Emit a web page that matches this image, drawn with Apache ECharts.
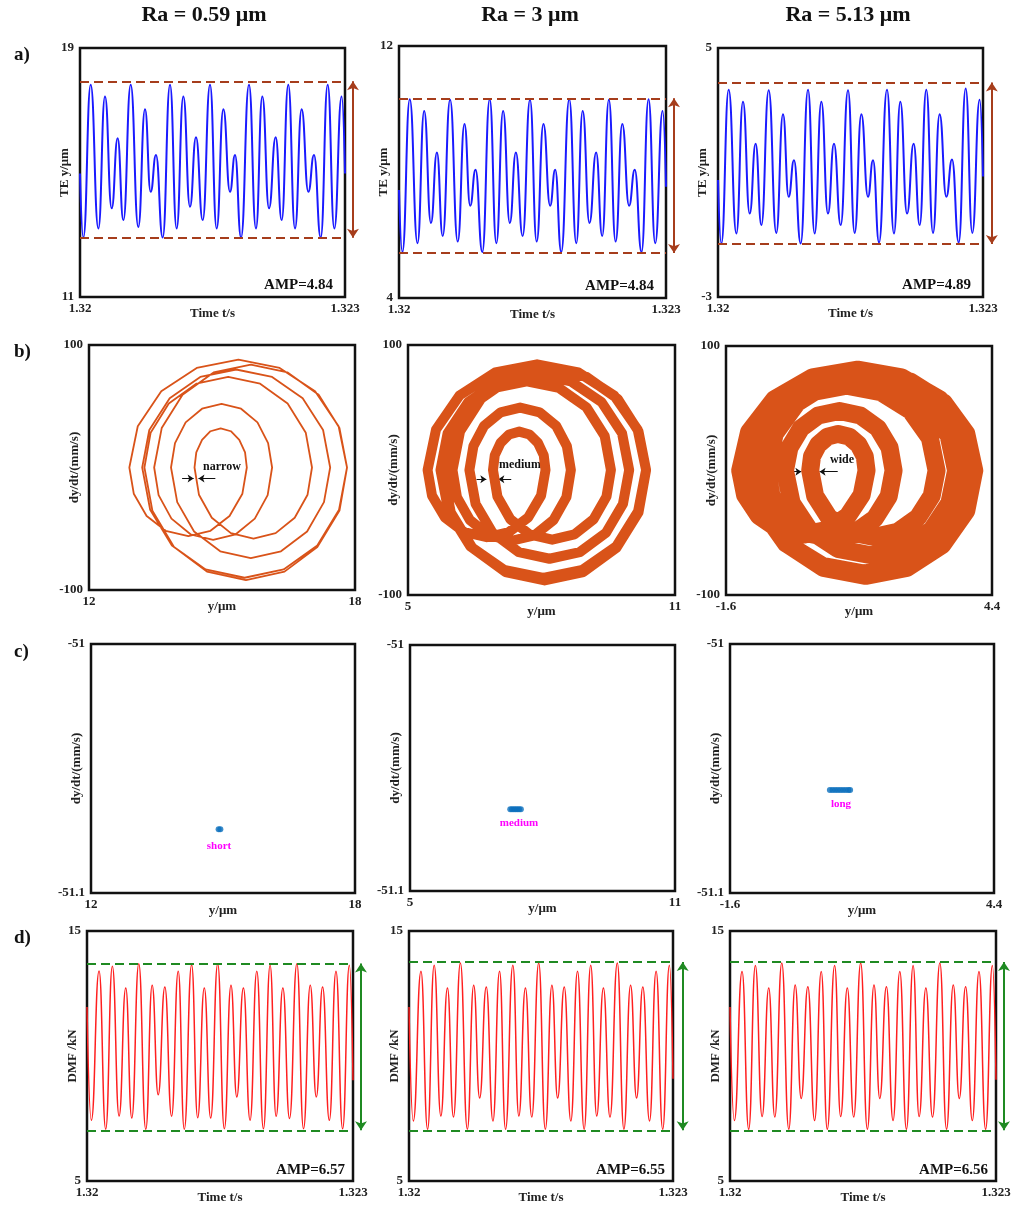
<!DOCTYPE html>
<html>
<head>
<meta charset="utf-8">
<script src="https://cdn.jsdelivr.net/npm/echarts@6/dist/echarts.min.js"></script>
<style>
  html, body { margin: 0; padding: 0; background: #fff; }
  #main { width: 1019px; height: 1207px; }
</style>
</head>
<body>
<div id="main"></div>
<script>
// ---- row a: transmission error, extrema ----
const aTime = [1.32, 1.320038, 1.320121, 1.320208, 1.320283, 1.320359, 1.320426, 1.320491, 1.320574, 1.320660,
  1.320736, 1.320800, 1.320860, 1.320936, 1.321019, 1.321094, 1.321170, 1.321245, 1.321313, 1.321389,
  1.321472, 1.321547, 1.321623, 1.321698, 1.321755, 1.321823, 1.321913, 1.321992, 1.322064, 1.322140,
  1.322215, 1.322283, 1.322358, 1.322434, 1.322509, 1.322585, 1.322649, 1.322725, 1.322804, 1.322879,
  1.322962, 1.323]
const te1 = [14.97, 12.91, 17.82, 13.20, 17.44, 13.85, 16.10, 13.47, 17.82, 13.25, 17.03, 14.38, 15.56, 12.91,
  17.82, 13.20, 17.44, 13.90, 16.13, 13.47, 17.82, 13.20, 17.03, 14.38, 15.56, 12.91, 17.82, 13.20, 17.44,
  13.85, 16.13, 13.47, 17.82, 13.20, 17.03, 14.38, 15.56, 12.91, 17.82, 13.20, 17.44, 14.97]
const te2 = [7.43, 5.46, 10.31, 5.74, 9.94, 6.38, 8.62, 5.97, 10.29, 5.79, 9.52, 6.93, 8.07, 5.46, 10.31, 5.74,
  9.94, 6.38, 8.62, 5.97, 10.29, 5.79, 9.52, 6.93, 8.07, 5.46, 10.31, 5.74, 9.94, 6.38, 8.62, 5.97, 10.29,
  5.79, 9.52, 6.93, 8.07, 5.46, 10.31, 5.74, 9.94, 7.53]
const te3 = [0.76, -1.28, 3.66, -0.96, 3.27, -0.32, 1.92, -0.69, 3.64, -0.94, 2.87, 0.22, 1.39, -1.28, 3.66,
  -0.96, 3.27, -0.32, 1.92, -0.69, 3.64, -0.94, 2.87, 0.22, 1.39, -1.25, 3.66, -0.96, 3.27, -0.32, 1.92,
  -0.69, 3.66, -0.94, 2.87, 0.22, 1.42, -1.25, 3.70, -0.94, 3.34, 0.87]
const teBand = [[17.93, 12.90], [10.34, 5.43], [3.89, -1.30]]
const teAmp = ['AMP=4.84', 'AMP=4.84', 'AMP=4.89']

// ---- row b: phase trajectories (y, dy/dt) ----
const phaseX1 = [12.91, 13.10, 13.63, 14.43, 15.37, 16.30, 17.10, 17.63, 17.82,
  17.64, 17.15, 16.39, 15.51, 14.63, 13.87, 13.38, 13.20,
  13.36, 13.82, 14.51, 15.32, 16.13, 16.82, 17.28, 17.44,
  17.30, 16.92, 16.33, 15.65, 14.96, 14.37, 13.99, 13.85,
  13.94, 14.18, 14.55, 14.99, 15.43, 15.80, 16.04, 16.13,
  16.03, 15.74, 15.31, 14.80, 14.29, 13.86, 13.57, 13.47,
  13.64, 14.11, 14.81, 15.65, 16.48, 17.18, 17.65, 17.82,
  17.65, 17.15, 16.41, 15.54, 14.66, 13.92, 13.43, 13.25,
  13.39, 13.80, 14.42, 15.14, 15.86, 16.48, 16.89, 17.03,
  16.93, 16.64, 16.21, 15.71, 15.20, 14.77, 14.48, 14.38,
  14.42, 14.55, 14.74, 14.97, 15.20, 15.39, 15.52, 15.56,
  15.46, 15.17, 14.74, 14.24, 13.73, 13.30, 13.01, 12.91]
const phaseV1 = [0, 33.7, 62.2, 81.3, 88, 81.3, 62.2, 33.7, 0,
  -34.5, -63.6, -83.2, -90, -83.2, -63.6, -34.5, 0,
  30.6, 56.6, 73.9, 80, 73.9, 56.6, 30.6, 0,
  -28.3, -52.3, -68.4, -74, -68.4, -52.3, -28.3, 0,
  19.9, 36.8, 48.0, 52, 48.0, 36.8, 19.9, 0,
  -22.6, -41.7, -54.5, -59, -54.5, -41.7, -22.6, 0,
  32.2, 59.4, 77.6, 84, 77.6, 59.4, 32.2, 0,
  -35.2, -65.0, -85.0, -92, -85.0, -65.0, -35.2, 0,
  28.3, 52.3, 68.4, 74, 68.4, 52.3, 28.3, 0,
  -22.2, -41.0, -53.6, -58, -53.6, -41.0, -22.2, 0,
  12.3, 22.6, 29.6, 32, 29.6, 22.6, 12.3, 0,
  -21.4, -39.6, -51.7, -56, -51.7, -39.6, -21.4, 0]
const phaseX2 = [5.44, 5.63, 6.16, 6.96, 7.90, 8.83, 9.63, 10.16, 10.35,
  10.17, 9.68, 8.92, 8.04, 7.16, 6.40, 5.91, 5.73,
  5.89, 6.35, 7.04, 7.85, 8.66, 9.35, 9.81, 9.97,
  9.83, 9.45, 8.86, 8.18, 7.49, 6.90, 6.52, 6.38,
  6.47, 6.71, 7.08, 7.52, 7.96, 8.33, 8.57, 8.66,
  8.56, 8.27, 7.84, 7.33, 6.82, 6.39, 6.10, 6.00,
  6.17, 6.64, 7.34, 8.18, 9.01, 9.71, 10.18, 10.35,
  10.18, 9.68, 8.94, 8.07, 7.19, 6.45, 5.96, 5.78,
  5.92, 6.33, 6.95, 7.67, 8.39, 9.01, 9.42, 9.56,
  9.46, 9.17, 8.74, 8.24, 7.73, 7.30, 7.01, 6.91,
  6.95, 7.08, 7.27, 7.50, 7.73, 7.92, 8.05, 8.09,
  7.99, 7.70, 7.27, 6.77, 6.26, 5.83, 5.54, 5.44]
const phaseV2 = [0, 32.4, 59.7, 78.0, 84.5, 78.0, 59.7, 32.4, 0,
  -33.1, -61.1, -79.9, -86.4, -79.9, -61.1, -33.1, 0,
  29.4, 54.3, 70.9, 76.8, 70.9, 54.3, 29.4, 0,
  -27.2, -50.2, -65.7, -71.0, -65.7, -50.2, -27.2, 0,
  19.1, 35.3, 46.1, 49.9, 46.1, 35.3, 19.1, 0,
  -21.7, -40.0, -52.3, -56.6, -52.3, -40.0, -21.7, 0,
  30.9, 57.0, 74.5, 80.6, 74.5, 57.0, 30.9, 0,
  -33.8, -62.4, -81.6, -88.3, -81.6, -62.4, -33.8, 0,
  27.2, 50.2, 65.7, 71.0, 65.7, 50.2, 27.2, 0,
  -21.3, -39.4, -51.5, -55.7, -51.5, -39.4, -21.3, 0,
  11.8, 21.7, 28.4, 30.7, 28.4, 21.7, 11.8, 0,
  -20.5, -38.0, -49.6, -53.8, -49.6, -38.0, -20.5, 0]
const phaseX3 = [-1.28, -1.08, -0.51, 0.35, 1.37, 2.36, 3.22, 3.79, 4.00,
  3.80, 3.28, 2.46, 1.52, 0.57, -0.25, -0.78, -0.97,
  -0.80, -0.30, 0.44, 1.31, 2.18, 2.92, 3.42, 3.59,
  3.44, 3.03, 2.40, 1.67, 0.92, 0.29, -0.12, -0.27,
  -0.17, 0.09, 0.48, 0.96, 1.43, 1.83, 2.09, 2.18,
  2.07, 1.76, 1.30, 0.75, 0.20, -0.26, -0.57, -0.68,
  -0.50, 0.01, 0.76, 1.67, 2.56, 3.31, 3.82, 4.00,
  3.82, 3.28, 2.48, 1.55, 0.60, -0.19, -0.72, -0.91,
  -0.76, -0.32, 0.34, 1.12, 1.89, 2.56, 3.00, 3.15,
  3.04, 2.73, 2.27, 1.73, 1.18, 0.72, 0.41, 0.30,
  0.34, 0.48, 0.69, 0.93, 1.18, 1.39, 1.53, 1.57,
  1.46, 1.15, 0.69, 0.15, -0.40, -0.86, -1.17, -1.28]
const phaseV3 = [0, 31.0, 57.2, 74.8, 81.0, 74.8, 57.2, 31.0, 0,
  -31.7, -58.5, -76.5, -82.8, -76.5, -58.5, -31.7, 0,
  28.2, 52.1, 68.0, 73.6, 68.0, 52.1, 28.2, 0,
  -26.0, -48.1, -62.9, -68.1, -62.9, -48.1, -26.0, 0,
  18.3, 33.9, 44.2, 47.8, 44.2, 33.9, 18.3, 0,
  -20.8, -38.4, -50.1, -54.3, -50.1, -38.4, -20.8, 0,
  29.6, 54.6, 71.4, 77.3, 71.4, 54.6, 29.6, 0,
  -32.4, -59.8, -78.2, -84.6, -78.2, -59.8, -32.4, 0,
  26.0, 48.1, 62.9, 68.1, 62.9, 48.1, 26.0, 0,
  -20.4, -37.7, -49.3, -53.4, -49.3, -37.7, -20.4, 0,
  11.3, 20.8, 27.2, 29.4, 27.2, 20.8, 11.3, 0,
  -19.7, -36.4, -47.6, -51.5, -47.6, -36.4, -19.7, 0]
// band-width markers (arrow tail -> tip), y level
const widthMarks = [
  [[[14.10, -9], [14.36, -9]], [[14.85, -9], [14.47, -9]]],
  [[[6.54, -7.4], [6.76, -7.4]], [[7.32, -7.4], [7.03, -7.4]]],
  [[[-0.23, -1], [0.10, -1]], [[0.92, -1], [0.51, -1]]]
]

// ---- row c: Poincare points ----
const pcX1 = [14.90, 14.94]
const pcY1 = [-51.0744, -51.0744]
const pcX2 = [7.27, 7.31, 7.35, 7.39, 7.43, 7.47, 7.51]
const pcY2 = [-51.0668, -51.0668, -51.0668, -51.0668, -51.0668, -51.0668, -51.0668]
const pcX3 = [0.67, 0.73, 0.79, 0.85, 0.91, 0.97, 1.03, 1.09, 1.13]
const pcY3 = [-51.0586, -51.0586, -51.0586, -51.0586, -51.0586, -51.0586, -51.0586, -51.0586, -51.0586]

// ---- row d: dynamic meshing force ----
const dTime = [1.32, 1.320049, 1.320136, 1.320211, 1.320286, 1.320362, 1.320437, 1.320505, 1.320584, 1.320663,
  1.320735, 1.320803, 1.320878, 1.320954, 1.321029, 1.321097, 1.321180, 1.321248, 1.321323, 1.321395,
  1.321474, 1.321549, 1.321624, 1.321689, 1.321764, 1.321839, 1.321915, 1.321990, 1.322065, 1.322133,
  1.322209, 1.322284, 1.322367, 1.322442, 1.322518, 1.322586, 1.322657, 1.322733, 1.322808, 1.322883,
  1.322959, 1.323]
const dmf1 = [11.96, 7.43, 13.40, 7.07, 13.59, 7.60, 12.72, 7.52, 13.69, 7.07, 12.83, 8.45, 12.76, 7.59, 13.39,
  7.07, 13.65, 7.53, 12.72, 7.52, 13.69, 7.09, 12.83, 8.36, 12.72, 7.43, 13.39, 7.09, 13.63, 7.59, 12.72,
  7.50, 13.69, 7.09, 12.83, 8.36, 12.76, 7.43, 13.39, 7.09, 13.63, 9.03]
const dmf2 = [11.96, 7.40, 13.39, 7.07, 13.63, 7.60, 12.72, 7.56, 13.72, 7.07, 12.83, 8.32, 12.76, 7.40, 13.39,
  7.07, 13.63, 7.60, 12.72, 7.56, 13.72, 7.07, 12.83, 8.32, 12.76, 7.40, 13.39, 7.07, 13.63, 7.60, 12.72,
  7.56, 13.72, 7.07, 12.83, 8.32, 12.76, 7.40, 13.39, 7.07, 13.63, 9.09]
const dmf3 = [11.96, 7.42, 13.38, 7.07, 13.62, 7.58, 12.72, 7.56, 13.72, 7.07, 12.84, 8.30, 12.77, 7.42, 13.38,
  7.07, 13.62, 7.58, 12.72, 7.56, 13.72, 7.07, 12.84, 8.30, 12.77, 7.42, 13.38, 7.07, 13.62, 7.58, 12.72,
  7.56, 13.72, 7.07, 12.84, 8.30, 12.77, 7.42, 13.38, 7.07, 13.62, 9.05]
const dmfBand = [[13.70, 7.03], [13.76, 7.03], [13.76, 7.03]]
const dmfAmp = ['AMP=6.57', 'AMP=6.55', 'AMP=6.56']

// ---- axis ranges / tick labels ----
const timeTicks = [1.32, 1.323]
const teTicks = [[11, 19], [4, 12], [-3, 5]]
const dispTicks = [[12, 18], [5, 11], [-1.6, 4.4]]
const velTicks = [-100, 100]
const pcTicks = [-51.1, -51]
const dmfTicks = [5, 15]
const arrowX = [1.32309, 1.32309, 1.3231]
const arrowXd = [1.32309, 1.32311, 1.32309]
const colTitles = ['Ra = 0.59 μm', 'Ra = 3 μm', 'Ra = 5.13 μm']

// ---- layout (px): left, top, width, height ----
const boxes = [
  [80, 48, 265, 249], [399, 46, 267, 252], [718, 48, 265, 249],
  [89, 345, 266, 245], [408, 345, 267, 250], [726, 346, 266, 249],
  [91, 644, 264, 249], [410, 645, 265, 246], [730, 644, 264, 249],
  [87, 931, 266, 250], [409, 931, 264, 250], [730, 931, 266, 250]
]

const SERIF = 'Liberation Serif'
const zip = (xs, ys) => xs.map((x, k) => [x, ys[k]])
const fmtNum = v => String(+v.toFixed(4))

const chart = echarts.init(document.getElementById('main'))

const grids = boxes.map(b => ({
  left: b[0], top: b[1], width: b[2], height: b[3],
  show: true, borderColor: '#111', borderWidth: 2.5, backgroundColor: 'transparent'
}))

function axis(i, ticks, name, nameGap) {
  return {
    type: 'value', gridIndex: i, min: ticks[0], max: ticks[ticks.length - 1],
    name: name, nameLocation: 'middle', nameGap: nameGap, nameMoveOverlap: false,
    nameTextStyle: { fontFamily: SERIF, fontWeight: 'bold', fontSize: 13, color: '#222' },
    axisLine: { show: false }, axisTick: { show: false }, splitLine: { show: false },
    axisLabel: {
      customValues: ticks, formatter: fmtNum, margin: 5,
      fontFamily: SERIF, fontWeight: 'bold', fontSize: 13, color: '#222'
    }
  }
}

const xAxes = [], yAxes = []
for (let c = 0; c < 3; c++) {
  xAxes[c] = axis(c, timeTicks, 'Time t/s', 10)
  yAxes[c] = axis(c, teTicks[c], 'TE y/μm', 9)
  xAxes[3 + c] = axis(3 + c, dispTicks[c], 'y/μm', 10)
  yAxes[3 + c] = axis(3 + c, velTicks, 'dy/dt/(mm/s)', 8)
  xAxes[6 + c] = axis(6 + c, dispTicks[c], 'y/μm', 11)
  yAxes[6 + c] = axis(6 + c, pcTicks, 'dy/dt/(mm/s)', 8)
  xAxes[9 + c] = axis(9 + c, timeTicks, 'Time t/s', 10)
  yAxes[9 + c] = axis(9 + c, dmfTicks, 'DMF /kN', 8)
}
yAxes.forEach(a => { a.axisLabel.margin = 6 })

const teData = [te1, te2, te3]
const dmfData = [dmf1, dmf2, dmf3]
const phaseData = [zip(phaseX1, phaseV1), zip(phaseX2, phaseV2), zip(phaseX3, phaseV3)]
const pcData = [zip(pcX1, pcY1), zip(pcX2, pcY2), zip(pcX3, pcY3)]
const phaseWidth = [1.8, 10, 18]

const BROWN = '#a63d1c', GREEN = '#1f8a22'
const series = []

function bandArrow(i, x, band, color) {
  return {
    type: 'lines', coordinateSystem: 'cartesian2d', xAxisIndex: i, yAxisIndex: i,
    clip: false, silent: true, symbol: ['arrow', 'arrow'], symbolSize: 9,
    lineStyle: { color: color, width: 2, opacity: 1, curveness: 0 },
    data: [{ coords: [[x, band[0]], [x, band[1]]] }]
  }
}
function bandLines(band, color) {
  return {
    silent: true, symbol: 'none', label: { show: false },
    lineStyle: { color: color, type: [9, 5], width: 2 },
    data: [{ yAxis: band[0] }, { yAxis: band[1] }]
  }
}

for (let c = 0; c < 3; c++) {
  // a) TE waveform
  series.push({
    type: 'line', xAxisIndex: c, yAxisIndex: c, data: zip(aTime, teData[c]),
    smooth: 0.5, smoothMonotone: 'x', symbol: 'none',
    lineStyle: { color: '#1a1aff', width: 2 },
    markLine: bandLines(teBand[c], BROWN)
  })
  series.push(bandArrow(c, arrowX[c], teBand[c], BROWN))

  // b) phase trajectory
  series.push({
    type: 'line', xAxisIndex: 3 + c, yAxisIndex: 3 + c, data: phaseData[c],
    symbol: 'none', smooth: false,
    lineStyle: { color: '#d95319', width: phaseWidth[c], join: 'round', cap: 'round' }
  })
  series.push({
    type: 'lines', coordinateSystem: 'cartesian2d', xAxisIndex: 3 + c, yAxisIndex: 3 + c,
    clip: false, silent: true, symbol: ['none', 'arrow'], symbolSize: 6,
    lineStyle: { color: '#111', width: 1, opacity: 1 },
    data: widthMarks[c].map(m => ({ coords: m }))
  })

  // c) Poincare map
  series.push({
    type: 'scatter', xAxisIndex: 6 + c, yAxisIndex: 6 + c, data: pcData[c],
    symbolSize: 6, itemStyle: { color: '#0b6fbd' }
  })

  // d) DMF waveform
  series.push({
    type: 'line', xAxisIndex: 9 + c, yAxisIndex: 9 + c, data: zip(dTime, dmfData[c]),
    smooth: 0.5, smoothMonotone: 'x', symbol: 'none',
    lineStyle: { color: '#ff1f1f', width: 1.5 },
    markLine: bandLines(dmfBand[c], GREEN)
  })
  series.push(bandArrow(9 + c, arrowXd[c], dmfBand[c], GREEN))
}

function text(str, x, y, size, color, align) {
  return {
    type: 'text', x: x, y: y, silent: true,
    style: {
      text: str, fill: color || '#111', align: align || 'center', verticalAlign: 'middle',
      font: 'bold ' + size + 'px "' + SERIF + '"'
    }
  }
}

const graphics = [
  text(colTitles[0], 204, 15, 22), text(colTitles[1], 530, 15, 22), text(colTitles[2], 848, 15, 22),
  text('a)', 14, 55, 19, '#111', 'left'), text('b)', 14, 352, 19, '#111', 'left'),
  text('c)', 14, 652, 19, '#111', 'left'), text('d)', 14, 938, 19, '#111', 'left'),
  text('narrow', 222, 467, 12), text('medium', 520, 465, 12), text('wide', 842, 460, 12),
  text('short', 219, 846, 11, '#ff00ff'), text('medium', 519, 823, 11, '#ff00ff'),
  text('long', 841, 804, 11, '#ff00ff')
]
for (let c = 0; c < 3; c++) {
  const a = boxes[c], d = boxes[9 + c]
  graphics.push(text(teAmp[c], a[0] + a[2] - 12, a[1] + a[3] - 12, 15, '#111', 'right'))
  graphics.push(text(dmfAmp[c], d[0] + d[2] - 8, d[1] + d[3] - 11, 15, '#111', 'right'))
}

chart.setOption({
  animation: false,
  backgroundColor: '#fff',
  grid: grids,
  xAxis: xAxes,
  yAxis: yAxes,
  series: series,
  graphic: graphics
})
</script>
</body>
</html>
